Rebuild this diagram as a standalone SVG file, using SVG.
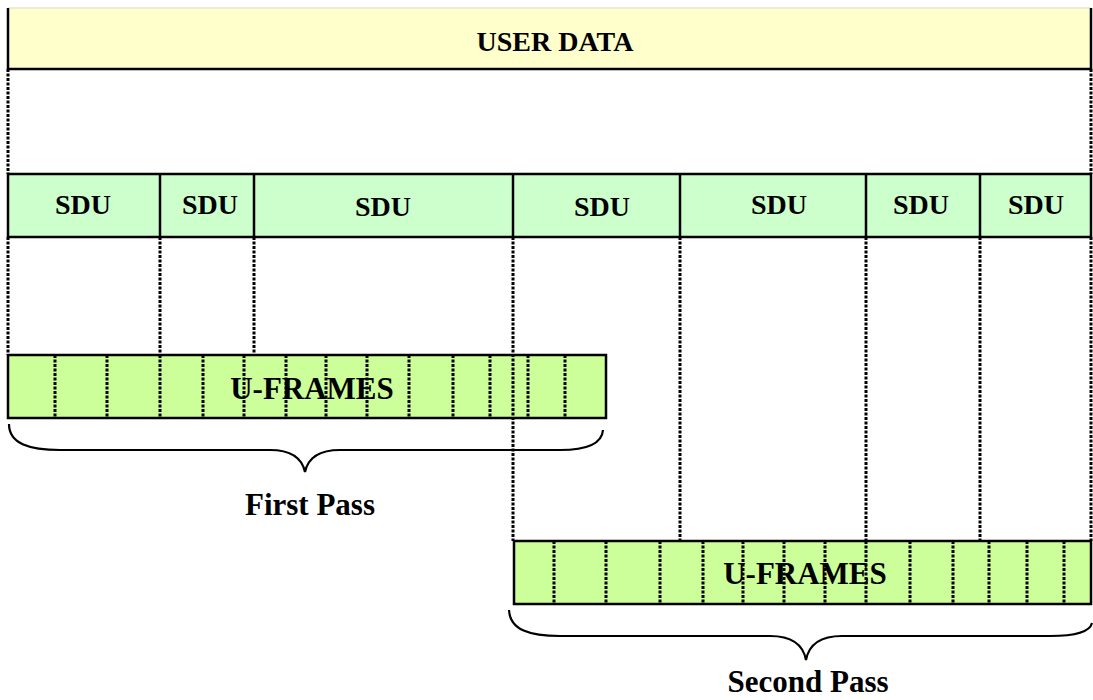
<svg xmlns="http://www.w3.org/2000/svg" width="1093" height="700" viewBox="0 0 1093 700">
<style>
.t{font-family:"Liberation Serif","Times New Roman",serif;font-weight:bold;font-size:28px;fill:#000;text-anchor:middle}
.big{font-size:31px}
.box{stroke:#000;stroke-width:2.5}
.dot{stroke:#000;stroke-width:3;stroke-dasharray:3 1.5;fill:none}
.brace{stroke:#000;stroke-width:2.2;fill:none}
</style>
<rect width="1093" height="700" fill="#fff"/>
<g id="user-data">
<rect x="8" y="8" width="1083" height="61" fill="#FFFFCC"/>
<line x1="8" y1="8" x2="1091" y2="8" stroke="#e6e6cc" stroke-width="1.5"/>
<path d="M8 8 V69 H1091 V8" fill="none" stroke="#000" stroke-width="2.5"/>
<text class="t" x="555" y="51">USER DATA</text>
</g>
<g id="sdu-row">
<rect class="box" x="8" y="174" width="1083" height="63" fill="#CCFFCC"/>
<g stroke="#000" stroke-width="2.5">
<line x1="160" y1="174" x2="160" y2="237"/>
<line x1="254" y1="174" x2="254" y2="237"/>
<line x1="513" y1="174" x2="513" y2="237"/>
<line x1="680" y1="174" x2="680" y2="237"/>
<line x1="866" y1="174" x2="866" y2="237"/>
<line x1="980" y1="174" x2="980" y2="237"/>
</g>
<text class="t" x="83" y="214">SDU</text>
<text class="t" x="210" y="214">SDU</text>
<text class="t" x="383" y="216">SDU</text>
<text class="t" x="602" y="216">SDU</text>
<text class="t" x="779" y="214">SDU</text>
<text class="t" x="921" y="214">SDU</text>
<text class="t" x="1036" y="214">SDU</text>
</g>
<g id="uframes-1">
<rect class="box" x="8" y="355" width="598" height="63" fill="#CCFF99"/>
<path class="dot" d="M55 355V418M107 355V418M160 355V418M203 355V418M244 355V418M286 355V418M326 355V418M367 355V418M409 355V418M453 355V418M490 355V418M528 355V418M565 355V418"/>
<text class="t big" x="312" y="399">U-FRAMES</text>
</g>
<g id="uframes-2">
<rect class="box" x="514" y="541" width="577" height="63" fill="#CCFF99"/>
<path class="dot" d="M554 541V604M606 541V604M660 541V604M703 541V604M743 541V604M784 541V604M825 541V604M866 541V604M910 541V604M953 541V604M989 541V604M1027 541V604M1064 541V604"/>
<text class="t big" x="805" y="584">U-FRAMES</text>
</g>
<g id="connectors">
<path class="dot" d="M8 69V174M1091 69V174"/>
<path class="dot" d="M8 237V355M160 237V355M254 237V355"/>
<path class="dot" d="M513 237V541M680 237V541M866 237V541M980 237V541M1091 237V541"/>
</g>
<g id="first-pass">
<path class="brace" d="M9 424 C9 444 30 450 60 450 L270 450 C290 450 302 458 305 472 C308 458 320 450 340 450 L560 450 C585 450 602 444 603 430"/>
<text class="t big" x="310" y="515">First Pass</text>
</g>
<g id="second-pass">
<path class="brace" d="M509 610 C510 630 530 636 560 636 L770 636 C790 636 803 644 806 660 C809 644 822 636 842 636 L1050 636 C1075 636 1090 632 1092 623"/>
<text class="t big" x="808" y="692">Second Pass</text>
</g>
</svg>
